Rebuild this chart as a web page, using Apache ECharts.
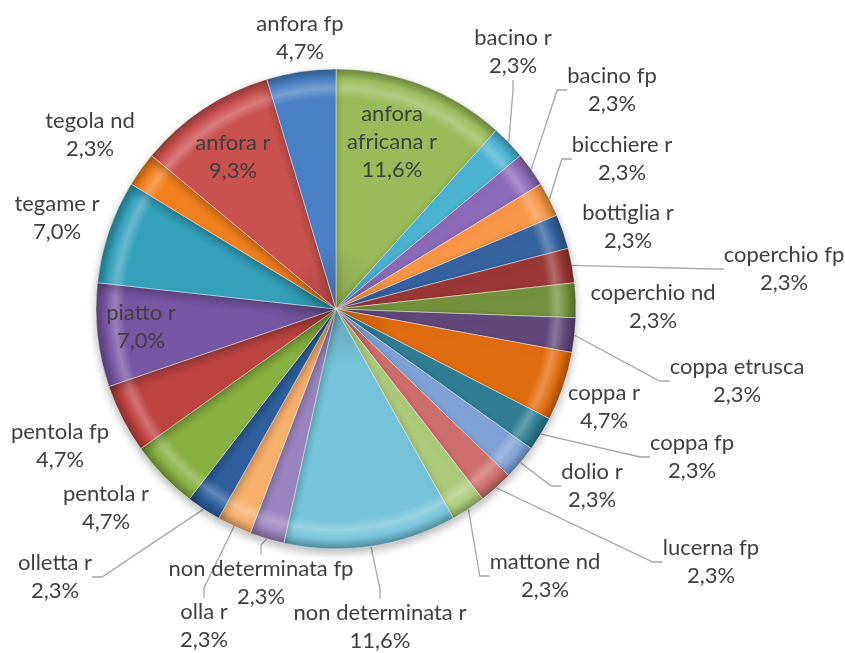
<!DOCTYPE html>
<html>
<head>
<meta charset="utf-8">
<script src="https://cdn.jsdelivr.net/npm/echarts@6/dist/echarts.min.js"></script>
<style>
html,body{margin:0;padding:0;background:#fff;}
#chart{width:845px;height:653px;}
</style>
</head>
<body>
<div id="chart"></div>
<script>
// ---- data ----
const categories = [
  'anfora africana r','bacino r','bacino fp','bicchiere r','bottiglia r','coperchio fp',
  'coperchio nd','coppa etrusca','coppa r','coppa fp','dolio r','lucerna fp',
  'mattone nd','non determinata r','non determinata fp','olla r','olletta r','pentola r',
  'pentola fp','piatto r','tegame r','tegola nd','anfora r','anfora fp'
];
const counts = [5,1,1,1,1,1,1,1,2,1,1,1,1,5,1,1,1,2,2,3,3,1,4,2];

// ---- styling (not data) ----
const colors = [
  '#9BBB59','#4BB3D0','#8C6BB8','#F79646','#3762A0','#9A3936',
  '#76923C','#5F497A','#E06C10','#2F7E93','#7FA2D6','#CF6F6D',
  '#AECA7C','#74C4DA','#9B85C0','#F8B06C','#2F5F9E','#86B040',
  '#BE4440','#7557A3','#35A0BA','#F27F1E','#C9524F','#4A80C6'
];
const insideLabels = {'anfora africana r':1,'anfora r':1,'piatto r':1};
const lineLabels = {'bacino r':1,'bacino fp':1,'bicchiere r':1,'coperchio fp':1,'coppa etrusca':1,
  'coppa fp':1,'dolio r':1,'lucerna fp':1,'mattone nd':1,'non determinata r':1,
  'non determinata fp':1,'olla r':1,'olletta r':1};
// label block centres (layout)
const labelPos = {
  'anfora africana r':[392,142],'bacino r':[513,52],'bacino fp':[612,90],'bicchiere r':[622,159],
  'bottiglia r':[628,227],'coperchio fp':[784,269],'coperchio nd':[653,307],'coppa etrusca':[737,381],
  'coppa r':[604,407],'coppa fp':[692,457],'dolio r':[592,486],'lucerna fp':[711,562],
  'mattone nd':[545,576],'non determinata r':[380,627],'non determinata fp':[261,583],'olla r':[204,626],
  'olletta r':[55,577],'pentola r':[106,508],'pentola fp':[60,446],'piatto r':[141,327],
  'tegame r':[57,218],'tegola nd':[90,135],'anfora r':[233,157],'anfora fp':[300,38]
};

const CX = 336, CY = 309, R = 240;
const total = counts.reduce((a,b)=>a+b,0);

function shade(hex, f){
  const n = parseInt(hex.slice(1),16);
  let r=(n>>16)&255,g=(n>>8)&255,b=n&255;
  if(f>=0){ r+= (255-r)*f; g+=(255-g)*f; b+=(255-b)*f; }
  else { r*=1+f; g*=1+f; b*=1+f; }
  return 'rgb('+Math.round(r)+','+Math.round(g)+','+Math.round(b)+')';
}
function fillFor(c){
  return {type:'radial', x:CX, y:CY, r:R, global:true, colorStops:[
    {offset:0, color:shade(c,-0.15)},
    {offset:0.25, color:c},
    {offset:0.88, color:c},
    {offset:0.92, color:shade(c,0.25)},
    {offset:0.96, color:c},
    {offset:1, color:shade(c,-0.3)}
  ]};
}

const seriesData = categories.map((name,i)=>{
  const inside = !!insideLabels[name];
  return {
    name: name,
    value: counts[i],
    itemStyle: {color: fillFor(colors[i])},
    label: {position: inside ? 'inside' : 'outside'},
    labelLine: {show: !!lineLabels[name]}
  };
});

const chart = echarts.init(document.getElementById('chart'), null, {renderer:'canvas'});
chart.setOption({
  animation:false,
  backgroundColor:'#fff',
  series:[{
    type:'pie',
    center:[CX,CY],
    radius:R,
    startAngle:90,
    clockwise:true,
    avoidLabelOverlap:false,
    data: seriesData,
    itemStyle:{
      borderColor:'rgba(255,255,255,0.45)',
      borderWidth:1,
      shadowBlur:9,
      shadowColor:'rgba(0,0,0,0.28)',
      shadowOffsetY:4
    },
    label:{
      show:true,
      fontFamily:'Lato',
      fontSize:22,
      color:'#404040',
      lineHeight:28,
      align:'center',
      formatter:function(p){
        const pct = (p.value/total*100).toFixed(1).replace('.',',');
        let nm = p.name === 'anfora africana r' ? 'anfora\nafricana r' : p.name;
        return nm + '\n' + pct + '%';
      }
    },
    labelLine:{
      lineStyle:{color:'#A6A6A6', width:1.3},
      length:10, length2:10, smooth:false
    },
    labelLayout:function(params){
      const name = categories[params.dataIndex];
      const pos = labelPos[name];
      return {x:pos[0], y:pos[1], align:'center', verticalAlign:'middle'};
    }
  }]
});
</script>
</body>
</html>
